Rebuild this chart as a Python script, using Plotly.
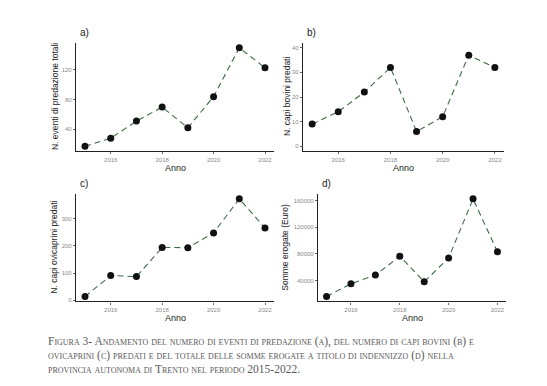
import plotly.graph_objects as go

W0, H0 = 547, 386
OFF = 8  # browser body margin
W, H = W0 - 2 * OFF, H0 - 2 * OFF

anni = [2015, 2016, 2017, 2018, 2019, 2020, 2021, 2022]
eventi = [17, 28, 51, 70, 42, 84, 150, 123]
bovini = [9, 14, 22, 32, 6, 12, 37, 32]
ovicaprini = [14, 91, 87, 194, 193, 247, 372, 265]
somme = [15800, 35000, 48000, 76300, 38000, 73700, 162500, 83000]

x_ticks = [2016, 2018, 2020, 2022]
ticks_a = [40, 80, 120]
ticks_b = [0, 10, 20, 30, 40]
ticks_c = [0, 100, 200, 300]
ticks_d = [40000, 80000, 120000, 160000]

y_titles = ["N. eventi di predazione totali", "N. capi bovini predati",
            "N. capi ovicaprini predati", "Somme erogate (Euro)"]
x_title = "Anno"
labels = ["a)", "b)", "c)", "d)"]
caption = ["Figura 3- Andamento del numero di eventi di predazione (a), del numero di capi bovini (b) e",
           "ovicaprini (c) predati e del totale delle somme erogate a titolo di indennizzo (d) nella",
           "provincia autonoma di Trento nel periodo 2015-2022."]

series = [eventi, bovini, ovicaprini, somme]
tickvals = [ticks_a, ticks_b, ticks_c, ticks_d]

# reference pixel boxes (left, right, top, bottom)
boxes = [(76, 274, 43, 152), (303, 504, 43, 152), (76, 274, 195, 303), (318, 506, 195, 303)]
ytitle_x = [55, 287, 54, 285]
xtitle_y = [169, 169, 320, 320]

def px(x):
    return (x - OFF) / W

def py(y):
    return 1 - (y - OFF) / H

def expand(vals):
    lo, hi = min(vals), max(vals)
    d = (hi - lo) * 0.05
    return [lo - d, hi + d]

yranges = [expand(eventi), [-2, 42], expand(ovicaprini), expand(somme)]
xrange_ = [2014.65, 2022.35]

fig = go.Figure()
sans = "Liberation Sans, Arial"
axis_font = dict(family=sans, size=6, color="#8a8a8a")
for i in range(4):
    xa = "x" if i == 0 else f"x{i+1}"
    ya = "y" if i == 0 else f"y{i+1}"
    fig.add_trace(go.Scatter(
        x=anni, y=series[i], xaxis=xa, yaxis=ya, mode="lines+markers",
        line=dict(color="#3d6b40", width=1.1, dash="6px,4px"),
        marker=dict(color="#111111", size=7),
        showlegend=False, hoverinfo="x+y"))
    l, r, t, b = boxes[i]
    xk = "xaxis" if i == 0 else f"xaxis{i+1}"
    yk = "yaxis" if i == 0 else f"yaxis{i+1}"
    fig.layout[xk] = dict(
        domain=[px(l), px(r)], range=xrange_, anchor=ya,
        tickvals=x_ticks, ticks="outside", ticklen=2, tickcolor="#666",
        showline=True, linecolor="#222", linewidth=1.2, showgrid=False, zeroline=False,
        tickfont=axis_font)
    fig.layout[yk] = dict(
        domain=[py(b), py(t)], range=yranges[i], anchor=xa,
        tickvals=tickvals[i], tickformat="d", ticks="outside", ticklen=2, tickcolor="#666",
        showline=True, linecolor="#222", linewidth=1.2, showgrid=False, zeroline=False,
        tickfont=axis_font)
    fig.add_annotation(x=px(l + 2), y=py(t - 3), xref="paper", yref="paper",
                       text=labels[i], showarrow=False, xanchor="left", yanchor="bottom",
                       font=dict(family=sans, size=10, color="#222"))
    fig.add_annotation(x=px(ytitle_x[i]), y=py((t + b) / 2), xref="paper", yref="paper",
                       text=y_titles[i], showarrow=False, textangle=-90,
                       xanchor="center", yanchor="middle",
                       font=dict(family=sans, size=8.5, color="#222"))
    fig.add_annotation(x=px((l + r) / 2), y=py(xtitle_y[i]), xref="paper", yref="paper",
                       text=x_title, showarrow=False, xanchor="center", yanchor="middle",
                       font=dict(family=sans, size=9, color="#222"))

for j, line in enumerate(caption):
    fig.add_annotation(x=px(46), y=py(343 + 14 * j), xref="paper", yref="paper",
                       text=line, showarrow=False, xanchor="left", yanchor="middle",
                       font=dict(family="Liberation Serif, Times New Roman", size=11.5,
                                 color="#5a5a5a", variant="small-caps"))

fig.update_layout(width=W, height=H, margin=dict(l=0, r=0, t=0, b=0),
                  paper_bgcolor="white", plot_bgcolor="white")
fig.write_html("out.html")
